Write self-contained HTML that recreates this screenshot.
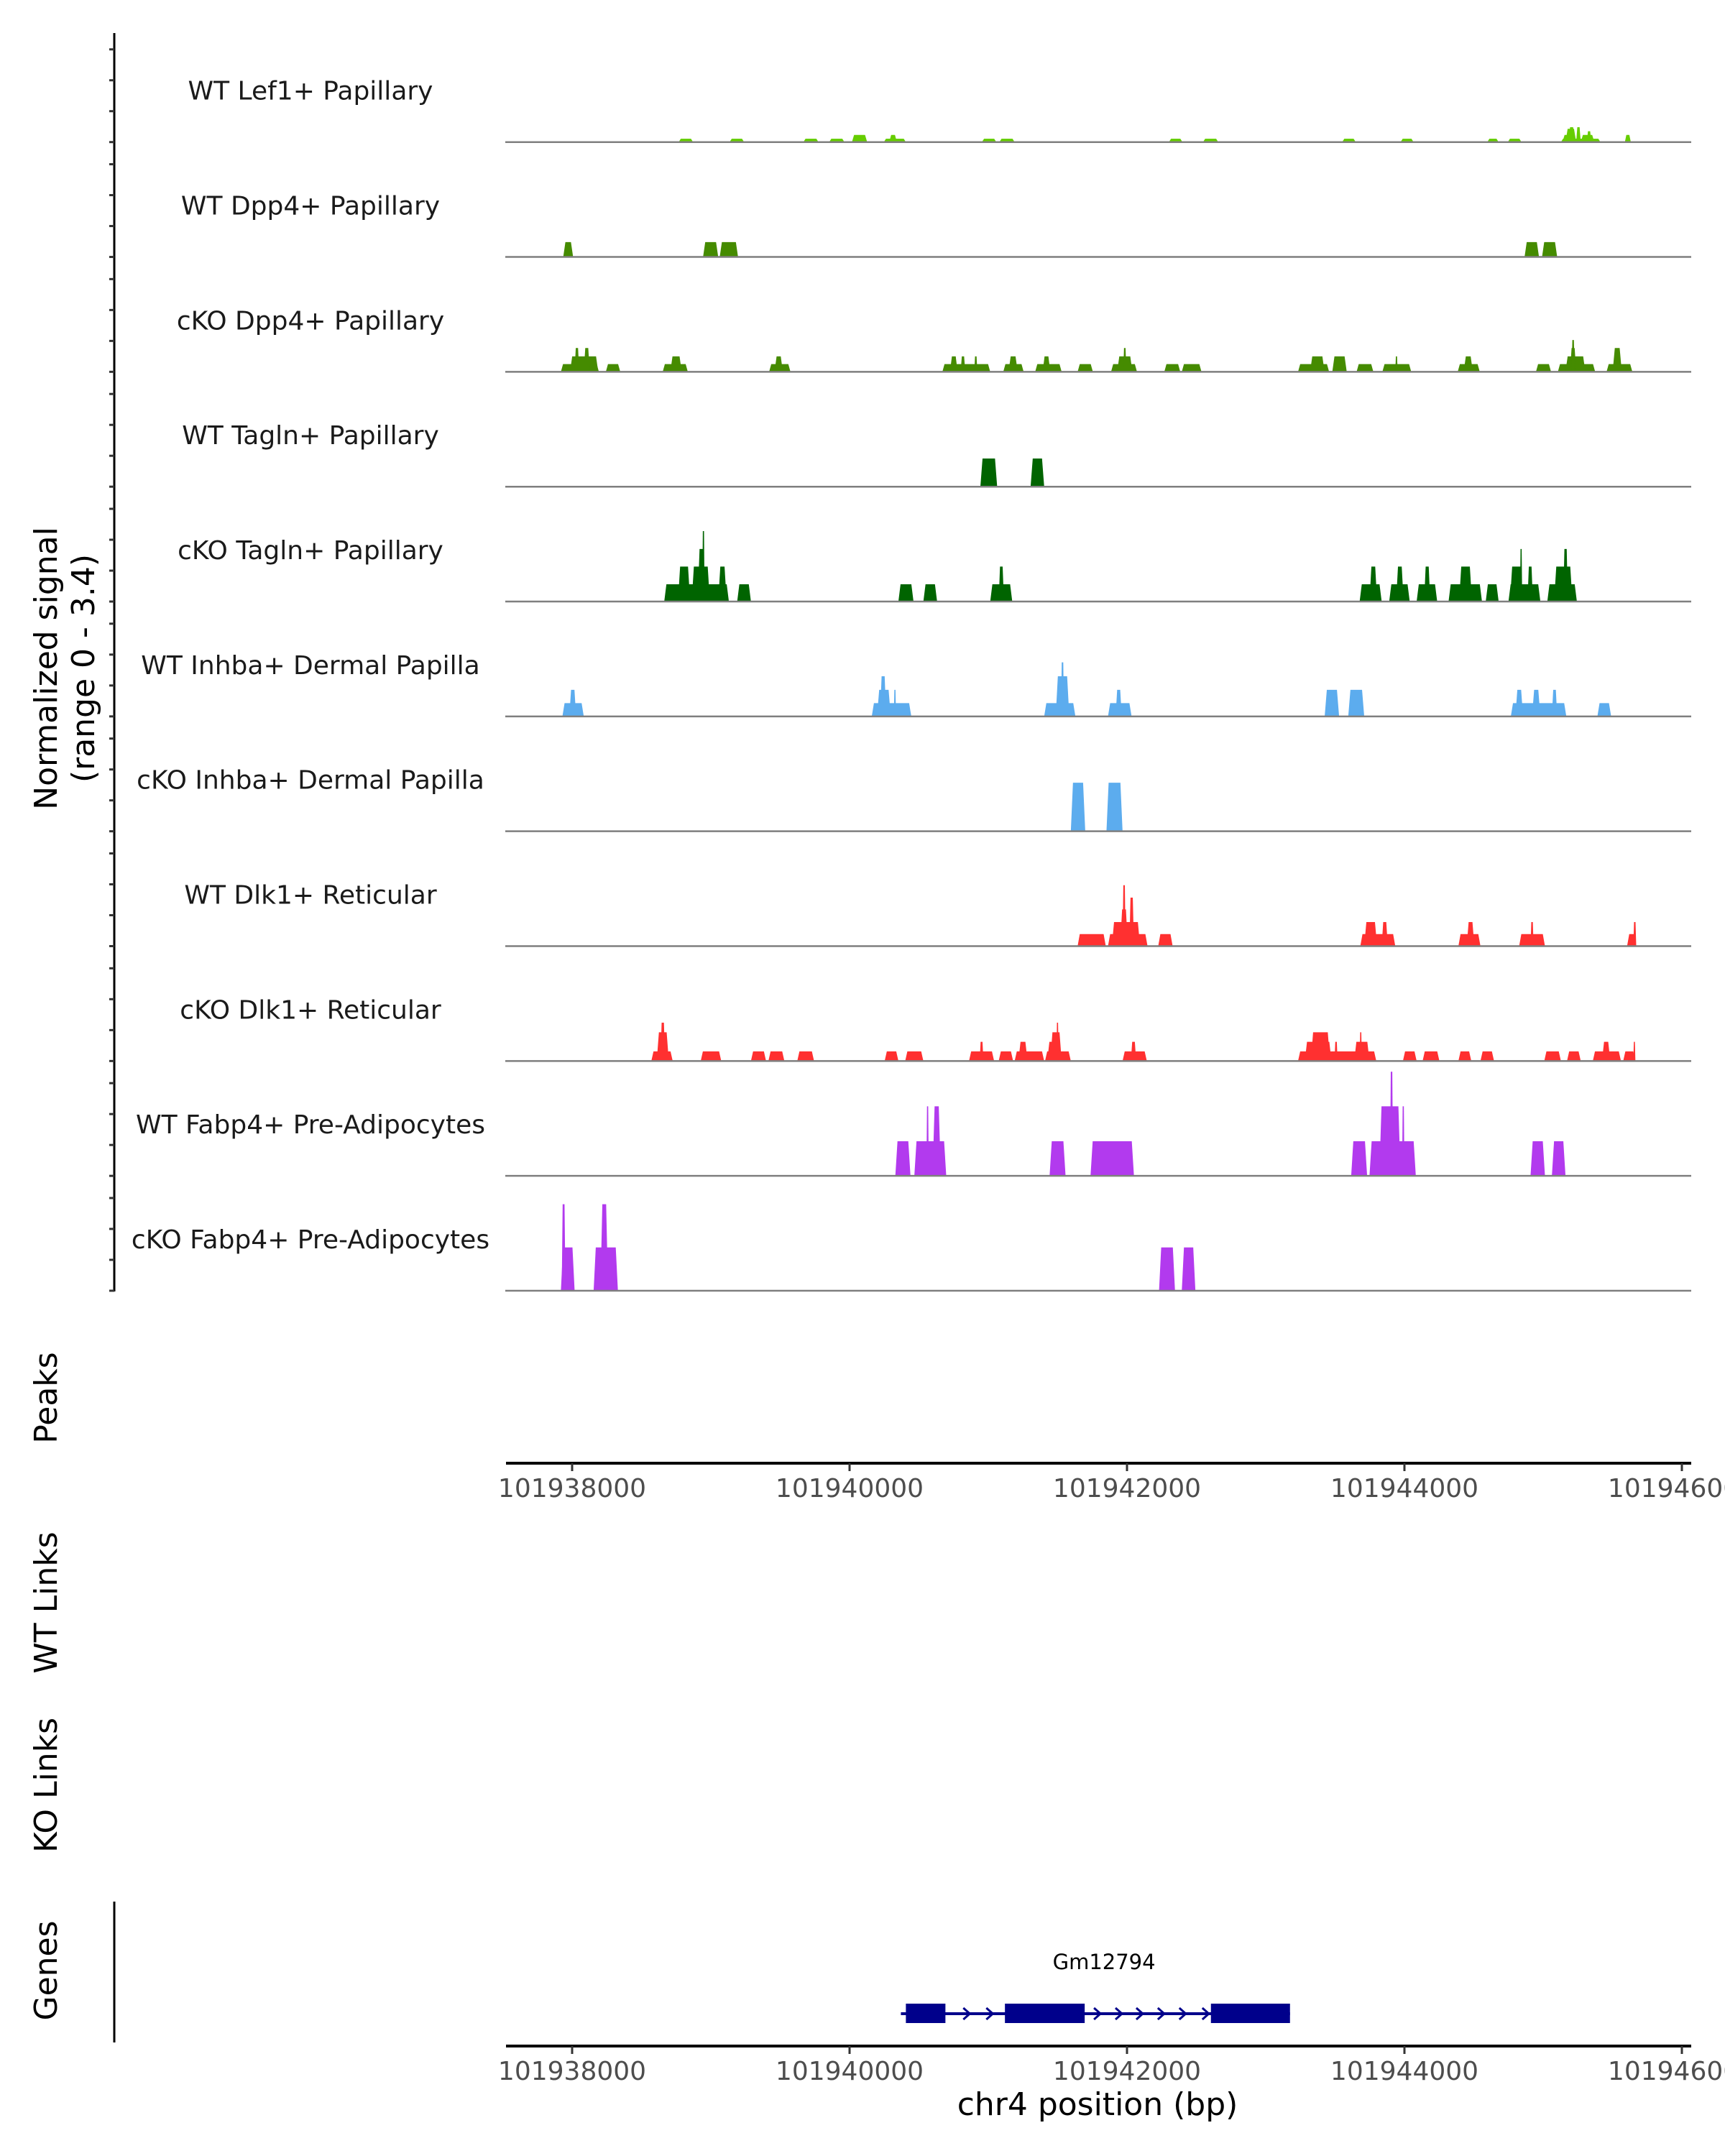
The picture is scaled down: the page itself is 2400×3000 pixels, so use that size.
<!DOCTYPE html>
<html><head><meta charset="utf-8">
<style>
html,body{margin:0;padding:0;background:#fff;overflow:hidden;}
svg{display:block;font-family:"DejaVu Sans","Liberation Sans",sans-serif;}
</style></head>
<body>
<svg id="chart" width="2400" height="3000" viewBox="0 0 2400 3000" xmlns="http://www.w3.org/2000/svg">
<g id="yaxis"></g>
<g id="tracks"></g>
<text x="79" y="930" font-size="44" fill="#000" text-anchor="middle" transform="rotate(-90 79 930)">Normalized signal</text>
<text x="131" y="930" font-size="44" fill="#000" text-anchor="middle" transform="rotate(-90 131 930)">(range 0 - 3.4)</text>
<text x="79" y="1945" font-size="44" fill="#000" text-anchor="middle" transform="rotate(-90 79 1945)">Peaks</text>
<text x="79" y="2230" font-size="44" fill="#000" text-anchor="middle" transform="rotate(-90 79 2230)">WT Links</text>
<text x="79" y="2484" font-size="44" fill="#000" text-anchor="middle" transform="rotate(-90 79 2484)">KO Links</text>
<text x="79" y="2742" font-size="44" fill="#000" text-anchor="middle" transform="rotate(-90 79 2742)">Genes</text>
<line x1="159" y1="2646" x2="159" y2="2842" stroke="#000" stroke-width="3"/>
<g id="xaxis1"></g>
<g id="xaxis2"></g>
<g id="gene"></g>
<text x="1527" y="2943" font-size="44" fill="#000" text-anchor="middle">chr4 position (bp)</text>
</svg>
<script>
// ---- data (bp offsets relative to 101938000, heights in normalized signal) ----
const trackNames = ["WT Lef1+ Papillary","WT Dpp4+ Papillary","cKO Dpp4+ Papillary","WT Tagln+ Papillary","cKO Tagln+ Papillary","WT Inhba+ Dermal Papilla","cKO Inhba+ Dermal Papilla","WT Dlk1+ Reticular","cKO Dlk1+ Reticular","WT Fabp4+ Pre-Adipocytes","cKO Fabp4+ Pre-Adipocytes"];
const trackColors = ["#66CD00","#458B00","#458B00","#006400","#006400","#5CACEE","#5CACEE","#FF3030","#FF3030","#B23AEE","#B23AEE"];
const xTicks = [101938000,101940000,101942000,101944000,101946000];
const xTickLabels = ["101938000","101940000","101942000","101944000","101946000"];
const trk1 = [[768,872,.11],[1135,1240,.11],[1667,1776,.11],[1853,1963,.11],[2017,2127,.23],[2247,2406,.11],[2286,2341,.23],[2954,3058,.11],[3080,3190,.11],[4302,4400,.11],[4548,4658,.11],[5551,5649,.11],[5972,6066,.11],[6597,6679,.11],[6745,6844,.11],[7128,7413,.11],[7139,7227,.23],[7161,7238,.43],[7183,7227,.48],[7238,7271,.48],[7271,7369,.23],[7315,7347,.35],[7589,7632,.23]];
const trk2 = [[-64,7,.48],[944,1053,.48],[1064,1196,.48],[6866,6970,.48],[6992,7101,.48]];
const trk3 = [[-81,193,.25],[-15,188,.5],[18,51,.77],[84,127,.77],[243,347,.25],[653,834,.25],[708,790,.5],[1420,1574,.25],[1459,1519,.5],[2669,3014,.25],[2724,2779,.5],[2801,2834,.5],[2899,2921,.5],[3108,3255,.25],[3146,3212,.5],[3338,3529,.25],[3392,3447,.5],[3644,3754,.25],[3885,4072,.25],[3929,4039,.5],[3973,3995,.77],[4269,4384,.25],[4395,4537,.25],[5233,5457,.25],[5320,5424,.5],[5480,5584,.5],[5655,5776,.25],[5841,6049,.25],[5934,5951,.5],[6384,6543,.25],[6427,6493,.5],[6948,7057,.25],[7106,7375,.25],[7161,7304,.5],[7194,7238,.77],[7205,7227,1.03],[7457,7643,.25],[7501,7567,.77]];
const trk4 = [[2943,3064,.91],[3305,3403,.91]];
const trk5 = [[664,1130,.56],[763,851,1.13],[862,993,1.13],[905,960,1.7],[938,955,2.28],[1053,1114,1.13],[1190,1289,.56],[2352,2461,.56],[2532,2631,.56],[3014,3173,.56],[3075,3113,1.13],[5677,5836,.56],[5748,5803,1.13],[5890,6038,.56],[5940,5994,1.13],[6088,6236,.56],[6142,6186,1.13],[6318,6559,.56],[6394,6487,1.13],[6586,6679,.56],[6750,6980,.56],[6761,6854,1.13],[6833,6849,1.7],[6887,6926,1.13],[7030,7243,.56],[7079,7211,1.13],[7145,7178,1.7]];
const trk6 = [[-70,84,.43],[-20,29,.86],[2160,2445,.43],[2198,2297,.86],[2220,2264,1.3],[2319,2335,.86],[3403,3628,.43],[3486,3584,1.3],[3524,3546,1.75],[3863,4033,.43],[3918,3962,.86],[5425,5529,.86],[5595,5710,.86],[6767,7167,.43],[6800,6855,.86],[6920,6980,.86],[7063,7101,.86],[7391,7490,.43]];
const trk7 = [[3595,3699,1.57],[3852,3968,1.57]];
const trk8 = [[3644,3847,.39],[3863,4148,.39],[3891,4094,.78],[3951,4006,1.19],[3968,3990,1.97],[4017,4050,1.57],[4225,4329,.39],[5682,5934,.39],[5710,5803,.78],[5836,5880,.78],[6389,6548,.39],[6449,6504,.78],[6827,7013,.39],[6909,6931,.78],[7605,7671,.39],[7650,7671,.78]];
const trk9 = [[571,725,.31],[610,697,.93],[637,670,1.24],[927,1075,.31],[1289,1398,.31],[1415,1530,.31],[1623,1744,.31],[2253,2352,.31],[2401,2532,.31],[2861,3042,.31],[2938,2965,.62],[3075,3179,.31],[3190,3403,.31],[3217,3283,.62],[3409,3595,.31],[3425,3529,.62],[3447,3529,.93],[3491,3507,1.24],[3968,4143,.31],[4028,4066,.62],[5233,5797,.31],[5282,5474,.62],[5326,5463,.93],[5496,5518,.62],[5638,5748,.62],[5677,5693,.93],[5989,6088,.31],[6131,6252,.31],[6389,6482,.31],[6548,6646,.31],[7008,7128,.31],[7172,7271,.31],[7358,7561,.31],[7424,7484,.62],[7577,7665,.31],[7650,7665,.62]];
const trk10 = [[2330,2439,1.12],[2467,2697,1.12],[2554,2571,2.25],[2598,2658,2.25],[3442,3557,1.12],[3737,4050,1.12],[5616,5731,1.12],[5748,6082,1.12],[5819,5972,2.25],[5896,5918,3.37],[5983,6000,2.25],[6909,7013,1.12],[7063,7161,1.12]];
const trk11 = [[-81,18,1.4],[-75,-48,2.8],[155,330,1.4],[204,259,2.8],[4231,4346,1.4],[4395,4493,1.4]];
const tracks = [trk1,trk2,trk3,trk4,trk5,trk6,trk7,trk8,trk9,trk10,trk11];
const geneExons = [[2406,2691],[3120,3695],[4605,5175]];
const geneSpan = [2370,5175];
const geneArrows = [2846,3012,3788,3943,4093,4248,4403,4569];
const geneName = "Gm12794";

// ---- scales ----
const ORIGIN = 101938000;
const xScale = bp => 796 + (bp - ORIGIN) * 0.193;
const xOff = off => xScale(ORIGIN + off);
const baseY = i => 197.7 + 159.83 * i;
const yPerUnit = 43;
const NS = "http://www.w3.org/2000/svg";
function mk(tag, attrs, parent){const e=document.createElementNS(NS,tag);for(const k in attrs)e.setAttribute(k,attrs[k]);parent.appendChild(e);return e;}

// left axis
const ya = document.getElementById('yaxis');
const axLine = mk('line',{x1:159,y1:46,x2:159,y2:1797,stroke:'#000','stroke-width':3},ya);


for(let i=0;i<trackNames.length;i++){
  for(let k=0;k<4;k++){
    const y = baseY(i) - k*yPerUnit;
    const t = mk('line',{x1:152,y1:y,x2:159,y2:y,stroke:'#333','stroke-width':3},ya);
    
    
  }
}

// tracks
const tg = document.getElementById('tracks');
tracks.forEach((blocks,i)=>{
  const g = mk('g',{},tg);
  
  
  const by = baseY(i);
  const lbl = mk('text',{x:432,y:by-59,'font-size':36,fill:'#1a1a1a','text-anchor':'middle'},g);
  lbl.textContent = trackNames[i];
  
  
  blocks.forEach(b=>{
    const x1=xOff(b[0]), x2=xOff(b[1]), top=by-b[2]*yPerUnit;
    const t=Math.min(3,(x2-x1)/4);
    const p = mk('polygon',{points:`${x1},${by} ${x1+t},${top} ${x2-t},${top} ${x2},${by}`,fill:trackColors[i]},g);
    
    
  });
  const bl = mk('line',{x1:703,y1:by,x2:2353,y2:by,stroke:'#7f7f7f','stroke-width':2.5},g);
  
  
});

// x axes
function drawAxis(id, y){
  const g=document.getElementById(id);
  const l = mk('line',{x1:704,y1:y,x2:2353,y2:y,stroke:'#000','stroke-width':4},g);
  
  
  xTicks.forEach((v,j)=>{
    const x=xScale(v);
    const t = mk('line',{x1:x,y1:y,x2:x,y2:y+11,stroke:'#333','stroke-width':3},g);
    
    
    const tx = mk('text',{x:x,y:y+47,'font-size':36,fill:'#4d4d4d','text-anchor':'middle'},g);
    tx.textContent = xTickLabels[j];
    
    
  });
}
drawAxis('xaxis1',2036);
drawAxis('xaxis2',2847);

// gene model
const gg = document.getElementById('gene');
const gy = 2802;
const gl = mk('line',{x1:xOff(geneSpan[0]),y1:gy,x2:xOff(geneSpan[1]),y2:gy,stroke:'#00008B','stroke-width':4},gg);


geneArrows.forEach(a=>{
  const x=xOff(a);
  const ar = mk('polyline',{points:`${x-5},${gy-8} ${x+4},${gy} ${x-5},${gy+8}`,fill:'none',stroke:'#00008B','stroke-width':3},gg);
  
  
});
geneExons.forEach(e=>{
  const r = mk('rect',{x:xOff(e[0]),y:gy-14,width:xOff(e[1])-xOff(e[0]),height:27,fill:'#00008B'},gg);
  
  
});
const gt = mk('text',{x:xOff((geneSpan[0]+geneSpan[1])/2)+12,y:2740,'font-size':29,fill:'#000','text-anchor':'middle'},gg);
gt.textContent = geneName;


</script>
</body></html>
